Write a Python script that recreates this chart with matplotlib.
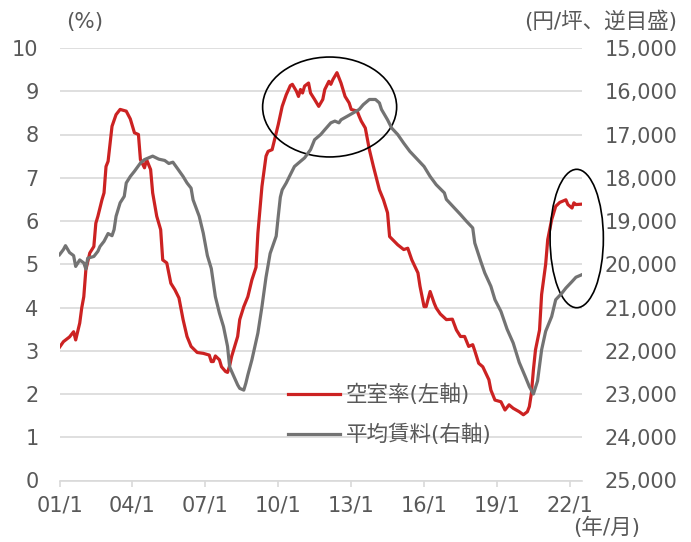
import pandas as pd
import matplotlib
matplotlib.use("Agg")
import matplotlib.pyplot as plt
from matplotlib.patches import Ellipse

plt.rcParams['font.family'] = ['DejaVu Sans', 'Noto Sans CJK JP']

# 空室率 (%), 読み取り値
vac_dates = ["2001-01", "2001-03", "2001-06", "2001-08", "2001-09", "2001-11", "2001-12",
             "2002-01", "2002-02", "2002-04", "2002-06", "2002-07", "2002-08", "2002-10", "2002-11", "2002-12",
             "2003-01", "2003-02", "2003-03", "2003-05", "2003-07", "2003-10", "2003-12",
             "2004-02", "2004-04", "2004-05", "2004-07", "2004-08", "2004-10", "2004-11",
             "2005-01", "2005-03", "2005-04", "2005-06", "2005-08", "2005-10", "2005-12",
             "2006-02", "2006-04", "2006-06", "2006-09", "2006-12",
             "2007-03", "2007-04", "2007-05", "2007-06", "2007-08", "2007-09", "2007-11", "2007-12",
             "2008-01", "2008-02", "2008-05", "2008-06", "2008-08", "2008-10", "2008-12",
             "2009-02", "2009-03", "2009-05", "2009-07", "2009-08", "2009-10", "2009-12",
             "2010-01", "2010-03", "2010-05", "2010-07", "2010-08", "2010-10", "2010-11", "2010-12",
             "2011-01", "2011-02", "2011-04", "2011-05", "2011-07", "2011-09", "2011-11", "2011-12",
             "2012-02", "2012-03", "2012-04", "2012-06", "2012-08", "2012-10", "2012-12",
             "2013-01", "2013-04", "2013-05", "2013-06", "2013-08", "2013-10", "2013-12",
             "2014-03", "2014-05", "2014-07", "2014-08", "2014-12",
             "2015-03", "2015-05", "2015-07", "2015-10", "2015-11",
             "2016-01", "2016-02", "2016-04", "2016-06", "2016-07", "2016-09", "2016-12",
             "2017-03", "2017-05", "2017-07", "2017-09", "2017-11",
             "2018-01", "2018-02", "2018-04", "2018-06", "2018-09", "2018-10", "2018-12",
             "2019-03", "2019-05", "2019-07", "2019-09", "2019-12",
             "2020-02", "2020-04", "2020-05", "2020-06", "2020-07", "2020-08", "2020-10", "2020-11",
             "2021-01", "2021-02", "2021-04", "2021-06", "2021-08", "2021-11", "2021-12",
             "2022-02", "2022-03", "2022-04", "2022-07"]
vac_rate = [3.08, 3.21, 3.32, 3.44, 3.25, 3.64, 3.99,
            4.25, 4.87, 5.26, 5.41, 5.95, 6.11, 6.49, 6.65, 7.26,
            7.38, 7.80, 8.19, 8.46, 8.58, 8.54, 8.36,
            8.04, 8.00, 7.42, 7.23, 7.42, 7.19, 6.65,
            6.11, 5.80, 5.10, 5.03, 4.56, 4.41, 4.22,
            3.72, 3.33, 3.10, 2.96, 2.94,
            2.90, 2.75, 2.75, 2.88, 2.79, 2.63, 2.52, 2.50,
            2.65, 2.87, 3.33, 3.72, 4.02, 4.25, 4.64,
            4.93, 5.72, 6.80, 7.50, 7.61, 7.65, 8.04,
            8.23, 8.65, 8.92, 9.13, 9.16, 9.00, 8.88, 9.04,
            8.96, 9.12, 9.19, 8.96, 8.81, 8.65, 8.81, 9.04,
            9.23, 9.16, 9.27, 9.43, 9.19, 8.88, 8.73,
            8.58, 8.54, 8.42, 8.31, 8.15, 7.65, 7.26,
            6.72, 6.49, 6.19, 5.64, 5.45,
            5.34, 5.37, 5.10, 4.80, 4.49,
            4.02, 4.02, 4.37, 4.10, 3.99, 3.85, 3.72,
            3.73, 3.48, 3.33, 3.33, 3.10,
            3.14, 3.00, 2.71, 2.63, 2.33, 2.09, 1.86,
            1.82, 1.63, 1.75, 1.67, 1.59,
            1.52, 1.59, 1.71, 2.02, 2.56, 3.02, 3.48, 4.30,
            5.00, 5.57, 6.03, 6.34, 6.43, 6.49, 6.38,
            6.30, 6.42, 6.38, 6.39]

# 平均賃料 (円/坪), 読み取り値
rent_dates = ["2001-01", "2001-03", "2001-04", "2001-06", "2001-08", "2001-09", "2001-11",
              "2002-01", "2002-02", "2002-03", "2002-06", "2002-08", "2002-09", "2002-11",
              "2003-01", "2003-03", "2003-04", "2003-05", "2003-07", "2003-09", "2003-10", "2003-12",
              "2004-02", "2004-05", "2004-07", "2004-11",
              "2005-02", "2005-05", "2005-07", "2005-09", "2005-11",
              "2006-02", "2006-04", "2006-06", "2006-07", "2006-10", "2006-12",
              "2007-02", "2007-04", "2007-06", "2007-08", "2007-10", "2007-12",
              "2008-01", "2008-02", "2008-05", "2008-06", "2008-08", "2008-09", "2008-10", "2008-12",
              "2009-03", "2009-05", "2009-07", "2009-09", "2009-12",
              "2010-01", "2010-02", "2010-03", "2010-05", "2010-07", "2010-09", "2010-12",
              "2011-02", "2011-05", "2011-07", "2011-10", "2011-12",
              "2012-03", "2012-05", "2012-07", "2012-08", "2012-11",
              "2013-02", "2013-05", "2013-07", "2013-10",
              "2014-01", "2014-03", "2014-04", "2014-07", "2014-09", "2014-12",
              "2015-03", "2015-06", "2015-09", "2016-01", "2016-04", "2016-07", "2016-11", "2016-12",
              "2017-04", "2017-07", "2017-10",
              "2018-01", "2018-02", "2018-05", "2018-07", "2018-10", "2018-12",
              "2019-03", "2019-06", "2019-09", "2019-12",
              "2020-03", "2020-05", "2020-07", "2020-09", "2020-11",
              "2021-01", "2021-04", "2021-06", "2021-09", "2021-11",
              "2022-02", "2022-04", "2022-07"]
rent = [19780, 19660, 19570, 19730, 19800, 20050, 19900,
        19970, 20110, 19860, 19820, 19700, 19590, 19470,
        19290, 19340, 19200, 18890, 18580, 18430, 18120, 17970,
        17850, 17660, 17580, 17500,
        17570, 17600, 17670, 17640, 17770,
        17970, 18120, 18240, 18510, 18890, 19280,
        19800, 20100, 20750, 21130, 21440, 21900,
        22370, 22480, 22790, 22870, 22910, 22750, 22560, 22210,
        21590, 20980, 20300, 19750, 19350,
        18890, 18450, 18280, 18120, 17930, 17740, 17620,
        17540, 17350, 17120, 17000, 16890,
        16730, 16690, 16730, 16660, 16580,
        16500, 16420, 16310, 16190,
        16190, 16270, 16420, 16660, 16850, 17000,
        17200, 17390, 17540, 17740, 17970, 18160, 18350, 18500,
        18700, 18850, 19010,
        19160, 19510, 19930, 20200, 20510, 20820,
        21090, 21500, 21820, 22270,
        22600, 22830, 23000, 22700, 21980,
        21550, 21210, 20820, 20670, 20550,
        20400, 20300, 20240]

tick_years = [2001, 2004, 2007, 2010, 2013, 2016, 2019, 2022]

red = '#CC2222'
gray = '#737373'
txt = '#595959'
grid_c = '#D9D9D9'

vac_x = pd.to_datetime(vac_dates)
rent_x = pd.to_datetime(rent_dates)

fig = plt.figure(figsize=(6.91, 5.42), dpi=100)
ax = fig.add_axes([59.5 / 691, 1 - 480.5 / 542, 522.5 / 691, 432.5 / 542])
ax2 = ax.twinx()

l1, = ax.plot(vac_x, vac_rate, color=red, lw=2.3, solid_joinstyle='round')
l2, = ax2.plot(rent_x, rent, color=gray, lw=2.3, solid_joinstyle='round')

ax.set_xlim(pd.Timestamp("2001-01-01"), pd.Timestamp("2022-07-01"))
ax.set_ylim(0, 10)
ax.set_yticks(range(0, 11))
ax2.set_ylim(25000, 15000)
ax2.set_yticks(range(15000, 25001, 1000))
ax2.set_yticklabels([f"{v:,}" for v in range(15000, 25001, 1000)])

ax.set_xticks(pd.to_datetime([f"{y}-01-01" for y in tick_years]))
ax.set_xticklabels([f"{str(y)[2:]}/1" for y in tick_years])

ax.grid(axis='y', color=grid_c, lw=1.2)
ax.set_axisbelow(True)
for a in (ax, ax2):
    for s in a.spines.values():
        s.set_visible(False)
ax.spines['bottom'].set_visible(True)
ax.spines['bottom'].set_color(grid_c)
ax.spines['bottom'].set_linewidth(1.2)

ax.tick_params(axis='y', length=0, pad=15, labelsize=15, labelcolor=txt)
ax2.tick_params(axis='y', length=0, pad=16, labelsize=15, labelcolor=txt)
ax.tick_params(axis='x', length=4, width=1.2, color=grid_c, pad=7, labelsize=15, labelcolor=txt)

# 楕円の注記
ax2.add_patch(Ellipse((0.517, 0.8636), 0.2565, 0.231, transform=ax.transAxes,
                      fill=False, ec='black', lw=1.2, clip_on=False))
ax2.add_patch(Ellipse((0.9899, 0.5595), 0.102, 0.320, transform=ax.transAxes,
                      fill=False, ec='black', lw=1.2, clip_on=False))

leg = ax2.legend([l1, l2], ["空室率(左軸)", "平均賃料(右軸)"], loc='upper left',
                 bbox_to_anchor=(288 / 691, 1 - 384 / 542), bbox_transform=fig.transFigure,
                 frameon=False, fontsize=15.5, handlelength=2.4, handletextpad=0.3,
                 labelspacing=0.85, borderpad=0, borderaxespad=0)
for t in leg.get_texts():
    t.set_color(txt)

fig.text(85 / 691, 1 - 22 / 542, "(%)", ha='center', va='center', fontsize=15.5, color=txt)
fig.text(677 / 691, 1 - 21 / 542, "(円/坪、逆目盛)", ha='right', va='center', fontsize=15.5, color=txt)
fig.text(573 / 691, 1 - 527 / 542, "(年/月)", ha='left', va='center', fontsize=15.5, color=txt)

fig.savefig("out.png", dpi=100)
